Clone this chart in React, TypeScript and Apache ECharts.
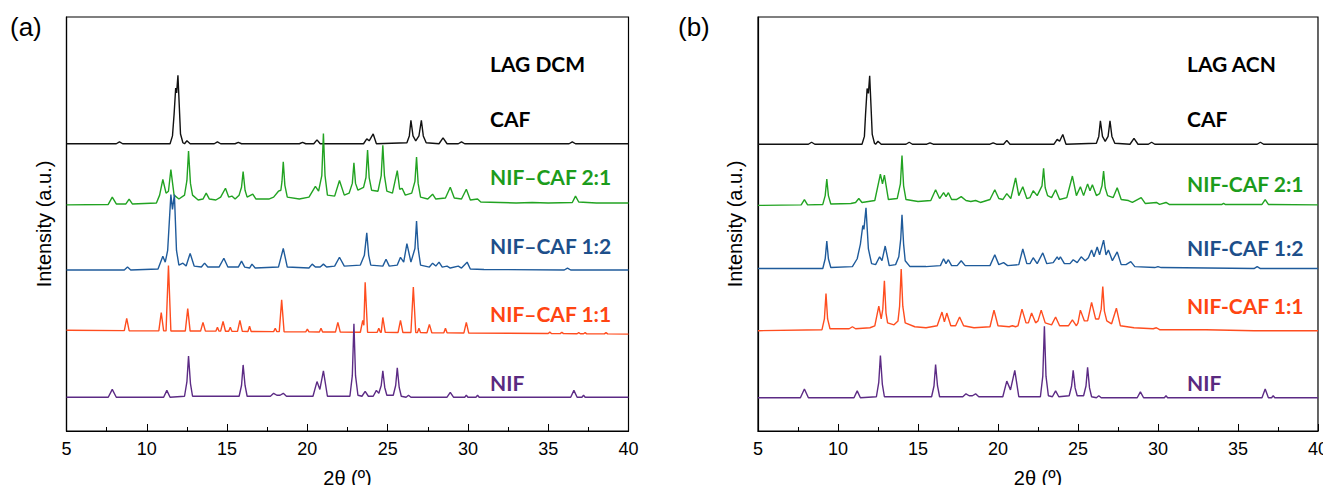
import React, { useEffect, useRef } from "react";
import * as echarts from "echarts";

// 2θ range and tick labels
const X_MIN = 5;
const X_MAX = 40;
const X_STEP = 5;

// Sample names (top to bottom) and their colours
const NAMES_A = ["CAF", "NIF–CAF 2:1", "NIF–CAF 1:2", "NIF–CAF 1:1", "NIF"];
const NAMES_B = ["CAF", "NIF-CAF 2:1", "NIF-CAF 1:2", "NIF-CAF 1:1", "NIF"];
const LINE_COLORS = ["#111111", "#22a322", "#1f5b9b", "#ff4d1f", "#5c2b85"];
const TEXT_COLORS = ["#000000", "#1c9c1c", "#1d4f8a", "#ff4512", "#5a2a80"];

// Vertical stacking offsets (a.u.)
const OFFSETS_A = [293.5, 231, 164.5, 103, 34.5];
const OFFSETS_B = [293, 230.5, 166, 102.5, 34];

// ---------- Panel (a) LAG DCM : [2θ, intensity above baseline] ----------
const CAF_A = [[5,0],[8.1,0],[8.3,2],[8.5,0],[11.45,0],[11.6,8],[11.7,30],[11.8,57],[11.86,52],[11.94,70],[12.02,40],[12.1,10],[12.25,1],[12.35,0],[12.5,3],[12.7,0],[14.2,0],[14.4,2],[14.6,0],[15.5,0],[15.7,1.5],[15.9,0],[19.5,0],[19.7,1.5],[19.9,0],[20.4,0],[20.6,4],[20.8,0],[23.5,0],[23.7,5],[23.85,3],[24.1,10],[24.3,0],[26.2,1],[26.35,8],[26.45,24],[26.58,8],[26.75,3],[26.95,8],[27.1,24],[27.22,8],[27.4,1],[28.2,0],[28.45,6],[28.7,0],[29.4,0],[29.6,2],[29.8,0],[36.3,0],[36.5,2],[36.7,0],[40,0]];
const NC21_A = [[5,0],[7.6,0.5],[7.85,8],[8.1,1],[8.7,1],[8.9,6],[9.1,1],[10.6,2],[10.8,10],[11.0,26],[11.2,12],[11.35,14],[11.5,36],[11.7,10],[12.0,6],[12.35,10],[12.5,25],[12.6,55],[12.72,22],[12.85,10],[13.2,5],[13.5,6],[13.7,12],[13.9,6],[14.3,5],[14.6,8],[14.9,17],[15.1,8],[15.3,9],[15.5,6],[15.75,10],[15.9,18],[16.0,34],[16.12,15],[16.25,8],[16.6,11],[16.8,6],[17.6,6],[17.9,8],[18.2,14],[18.35,15],[18.42,24],[18.5,44],[18.6,20],[18.75,8],[19.5,6],[20.1,8],[20.5,19],[20.7,14],[20.9,30],[21.0,73],[21.1,30],[21.25,10],[21.7,9],[22.0,25],[22.3,10],[22.6,12],[22.8,22],[22.9,43],[23.0,22],[23.15,15],[23.5,18],[23.65,28],[23.75,56],[23.85,28],[24.0,15],[24.4,14],[24.6,30],[24.7,61],[24.8,30],[24.95,14],[25.3,12],[25.6,35],[25.75,16],[25.9,17],[26.1,10],[26.5,12],[26.7,24],[26.8,49],[26.9,22],[27.05,8],[27.5,6],[27.8,11],[28.0,6],[28.6,7],[28.9,18],[29.15,7],[29.6,6],[29.9,16],[30.15,5],[30.6,6],[30.8,3],[32,2.5],[33,2],[34,2.5],[35,2],[36.5,2.5],[36.7,9],[36.9,3],[38,2],[40,2]];
const NC12_A = [[5,0],[8.6,0],[8.8,3],[9.0,0],[10.7,1],[11.0,14],[11.15,8],[11.3,20],[11.5,77],[11.6,62],[11.72,77],[11.85,20],[12.0,5],[12.25,7],[12.45,4],[12.7,17],[12.95,4],[13.4,3],[13.6,7],[13.8,3],[14.5,3],[14.8,12],[15.05,3],[15.7,3],[15.9,9],[16.1,3],[16.4,2],[16.55,6],[16.75,2],[18.2,3],[18.5,22],[18.75,3],[20.1,2],[20.3,6],[20.5,3],[20.8,3],[21.0,6],[21.2,3],[21.7,4],[22.0,13],[22.3,4],[23.3,5],[23.55,15],[23.7,38],[23.82,15],[23.95,5],[24.7,4],[24.9,11],[25.1,4],[25.6,5],[25.8,13],[26.0,8],[26.2,27],[26.45,8],[26.7,22],[26.8,50],[26.9,22],[27.05,5],[27.6,3],[27.8,7],[28.0,4],[28.2,8],[28.4,3],[28.7,4],[28.9,2],[29.4,4],[29.6,2],[29.95,8],[30.15,1],[31,0.5],[36,0],[36.2,2],[36.4,0],[40,0]];
const NC11_A = [[5,0],[8.6,-0.4],[8.75,12],[8.9,-0.5],[10.75,-0.7],[10.9,18],[11.05,-0.7],[11.2,-0.7],[11.35,66],[11.5,-0.8],[12.4,-0.8],[12.55,22],[12.7,-0.9],[13.35,-0.9],[13.5,8],[13.65,-1],[14.3,-1],[14.4,3],[14.5,-1],[14.6,-1],[14.75,9],[14.9,-1.1],[15.1,-1.1],[15.2,3],[15.3,-1.2],[15.65,-1.2],[15.8,10],[15.95,-1.2],[16.3,-1.3],[16.4,4],[16.5,-1.3],[17.9,-1.5],[18.0,2],[18.1,-1.5],[18.25,-1.5],[18.4,31],[18.55,-1.6],[19.9,-1.7],[20.0,1],[20.1,-1.7],[20.75,-1.8],[20.85,2],[20.95,-1.8],[21.75,-1.9],[21.9,8],[22.05,-1.9],[23.3,-2.1],[23.45,10],[23.52,5],[23.6,49],[23.75,-2.1],[24.35,-2.2],[24.45,2],[24.55,-2.2],[24.6,-2.2],[24.7,13],[24.85,-2.2],[25.65,-2.3],[25.8,10],[25.95,-2.4],[26.45,-2.4],[26.6,44],[26.75,-2.4],[26.85,-2.5],[26.95,2],[27.05,-2.5],[27.45,-2.6],[27.6,6],[27.75,-2.6],[28.5,-2.7],[28.6,2],[28.7,-2.7],[29.75,-2.8],[29.9,8],[30.05,-2.9],[35,-3.4],[35.1,-2],[35.2,-3.4],[35.75,-3.5],[35.85,-2],[35.95,-3.5],[36.8,-3.6],[36.9,-2.5],[37.0,-3.6],[37.2,-3.6],[37.3,-2.5],[37.4,-3.7],[38.5,-3.8],[38.6,-2.5],[38.7,-3.8],[40,-4]];
const NIF_A = [[5,0],[7.6,0],[7.85,8],[8.1,0],[11.05,0],[11.25,7],[11.45,0],[12.35,1],[12.5,16],[12.6,42],[12.72,14],[12.85,1],[15.75,1],[15.9,12],[16.0,33],[16.12,12],[16.25,1],[17.7,1],[17.9,4],[18.1,2],[18.3,2],[18.5,4],[18.7,1],[20.35,1],[20.6,16],[20.78,8],[21.0,27],[21.25,1],[22.65,1],[22.8,22],[22.9,75],[23.0,22],[23.15,2],[23.4,1],[23.6,6],[23.8,1],[24.1,1],[24.3,7],[24.45,4],[24.6,12],[24.7,27],[24.82,10],[24.95,2],[25.35,2],[25.5,12],[25.6,30],[25.72,10],[25.85,1],[26.15,0],[26.3,2],[26.45,0],[28.7,0],[28.9,5],[29.1,0],[29.8,0],[29.9,2],[30.0,0],[30.5,0],[30.6,2],[30.7,0],[36.4,0],[36.6,7],[36.8,0],[37.1,0],[37.2,2],[37.3,0],[40,0]];

// ---------- Panel (b) LAG ACN ----------
const CAF_B = [[5,0],[8.15,0],[8.35,2],[8.55,0],[11.5,0],[11.65,8],[11.72,30],[11.82,57],[11.9,52],[11.98,70],[12.06,40],[12.14,10],[12.28,1],[12.35,0],[12.5,3],[12.7,0],[14.25,0],[14.45,2],[14.65,0],[15.55,0],[15.75,1.5],[15.95,0],[19.5,0],[19.7,1.5],[19.9,0],[20.35,0],[20.55,4],[20.75,0],[23.5,0],[23.7,5],[23.85,3],[24.05,10],[24.25,0],[26.15,1],[26.3,8],[26.4,24],[26.53,8],[26.7,3],[26.88,8],[27.0,24],[27.12,8],[27.3,1],[28.25,0],[28.5,6],[28.75,0],[29.4,0],[29.6,2],[29.8,0],[36.2,0],[36.4,2],[36.6,0],[40,0]];
const NC21_B = [[5,0],[7.7,0.5],[7.9,6],[8.1,0.5],[9.05,1],[9.2,10],[9.3,27],[9.4,10],[9.55,1.5],[10.8,2],[11.1,3],[11.3,7],[11.5,3],[12.3,5],[12.65,32],[12.78,22],[12.9,31],[13.15,6],[13.7,7],[13.9,22],[14.0,51],[14.1,20],[14.25,6],[15.0,4],[15.8,5],[16.1,16],[16.35,7],[16.6,13],[16.75,9],[16.9,13],[17.1,6],[17.4,6],[17.7,9],[18.0,5],[18.3,4],[18.6,5],[18.9,3],[19.5,6],[19.8,16],[20.05,7],[20.3,6],[20.55,12],[20.8,7],[21.1,28],[21.3,10],[21.55,19],[21.8,7],[22.0,8],[22.2,15],[22.45,10],[22.75,20],[22.85,38],[22.95,18],[23.1,10],[23.35,8],[23.6,16],[23.85,6],[24.3,8],[24.65,30],[24.9,10],[25.15,19],[25.35,10],[25.6,22],[25.75,15],[25.9,21],[26.15,10],[26.35,12],[26.5,20],[26.6,35],[26.7,18],[26.85,10],[27.2,8],[27.45,18],[27.7,6],[28.15,5],[28.4,3],[28.95,8],[29.2,2],[29.9,3],[30.1,1],[30.5,3],[30.7,1],[34.0,1],[34.1,2],[34.2,1],[36.5,1],[36.7,6],[36.9,1],[40,0.5]];
const NC12_B = [[5,0],[9.05,0],[9.2,10],[9.3,28],[9.4,10],[9.55,1],[10.9,2],[11.2,10],[11.4,25],[11.55,44],[11.62,40],[11.75,62],[11.9,20],[12.1,5],[12.35,4],[12.6,12],[12.75,8],[12.95,23],[13.2,3],[13.6,4],[13.8,12],[13.92,30],[14.0,55],[14.1,25],[14.2,8],[14.5,2],[15.5,2],[16.4,3],[16.6,10],[16.75,5],[16.9,9],[17.1,3],[17.45,3],[17.7,8],[17.95,3],[19.5,3],[19.8,14],[20.05,4],[20.35,6],[20.6,3],[21.3,4],[21.55,20],[21.8,5],[22.0,5],[22.2,11],[22.45,5],[22.8,16],[23.05,5],[23.45,6],[23.7,12],[23.8,9],[23.9,12],[24.15,5],[24.5,5],[24.7,9],[24.95,6],[25.2,12],[25.45,8],[25.65,11],[25.85,19],[26.0,12],[26.2,22],[26.35,14],[26.6,29],[26.75,14],[26.9,19],[27.15,8],[27.45,17],[27.7,4],[28.0,4],[28.3,7],[28.55,2],[29.8,1],[30.0,2],[30.2,1],[36.0,0],[36.2,2],[36.4,0],[40,0]];
const NC11_B = [[5,0],[9.0,1],[9.15,12],[9.25,38],[9.35,12],[9.5,2],[10.7,2],[10.9,4],[11.1,2],[12.0,3],[12.3,5],[12.55,25],[12.7,12],[12.8,22],[12.9,51],[13.0,18],[13.1,8],[13.5,6],[13.75,10],[13.85,25],[13.95,63],[14.05,25],[14.2,8],[14.8,4],[15.5,3],[16.2,5],[16.5,19],[16.65,9],[16.8,18],[17.05,5],[17.35,5],[17.6,14],[17.85,5],[18.5,3],[19.5,4],[19.75,21],[20.0,5],[20.7,4],[20.9,5],[21.1,4],[21.25,5],[21.5,22],[21.75,8],[21.9,8],[22.1,18],[22.35,8],[22.5,10],[22.7,21],[22.95,8],[23.35,6],[23.6,14],[23.85,5],[24.4,5],[24.65,11],[24.9,5],[25.0,8],[25.15,21],[25.4,10],[25.6,10],[25.85,29],[26.1,12],[26.3,12],[26.45,22],[26.55,45],[26.65,20],[26.8,10],[27.1,7],[27.4,23],[27.65,5],[28.5,3],[29.7,2],[29.9,3],[30.1,1],[33,1],[36,0],[40,0]];
const NIF_B = [[5,0],[7.65,0],[7.9,9],[8.15,0],[11.0,0],[11.2,7],[11.4,0],[12.4,1],[12.55,16],[12.65,43],[12.77,14],[12.9,1],[15.85,1],[16.0,12],[16.1,34],[16.22,12],[16.35,1],[17.8,1],[18.0,4],[18.2,2],[18.4,2],[18.6,4],[18.8,1],[20.3,1],[20.55,17],[20.78,8],[21.05,28],[21.3,1],[22.65,1],[22.8,22],[22.9,73],[23.0,22],[23.15,2],[23.4,1],[23.6,7],[23.8,1],[24.45,2],[24.6,12],[24.7,28],[24.82,10],[24.95,2],[25.35,2],[25.5,12],[25.6,31],[25.72,10],[25.85,1],[26.15,0],[26.3,2],[26.45,0],[28.7,0],[28.9,6],[29.1,0],[30.4,0],[30.5,2],[30.6,0],[36.5,0],[36.7,9],[36.9,0],[37.1,0],[37.2,2],[37.3,0],[40,0]];

const PATTERNS_A = [CAF_A, NC21_A, NC12_A, NC11_A, NIF_A];
const PATTERNS_B = [CAF_B, NC21_B, NC12_B, NC11_B, NIF_B];

const Y_MAX = 423;

export default function App() {
  const ref = useRef<HTMLDivElement>(null);

  useEffect(() => {
    if (!ref.current) return;
    const chart = echarts.init(ref.current, null, { renderer: "svg" });

    const axisFont = "'Liberation Sans', Arial, sans-serif";
    const labelFont = "Lato, 'Open Sans', sans-serif";

    const makeX = (gridIndex: number) => ({
      type: "value",
      gridIndex,
      min: X_MIN,
      max: X_MAX,
      interval: X_STEP,
      name: "2θ (º)",
      nameLocation: "middle",
      nameGap: 37,
      nameTextStyle: { fontSize: 20, color: "#000", fontFamily: axisFont },
      axisLine: { show: true, lineStyle: { color: "#000", width: 1.2 } },
      axisTick: { show: true, inside: true, length: 7, lineStyle: { color: "#000", width: 1 } },
      minorTick: { show: true, splitNumber: 2, length: 4, lineStyle: { color: "#000", width: 1 } },
      axisLabel: { fontSize: 18, color: "#000", margin: 9, fontFamily: axisFont },
      splitLine: { show: false },
    });
    const makeY = (gridIndex: number) => ({
      type: "value",
      gridIndex,
      min: 0,
      max: Y_MAX,
      name: "Intensity (a.u.)",
      nameLocation: "middle",
      nameGap: 13,
      nameTextStyle: { fontSize: 20, color: "#000", fontFamily: axisFont },
      axisLine: { show: true, lineStyle: { color: "#000", width: 1.2 } },
      axisTick: { show: false },
      axisLabel: { show: false },
      splitLine: { show: false },
    });

    const series: any[] = [];
    PATTERNS_A.forEach((pts, i) => {
      series.push({
        type: "line",
        name: NAMES_A[i],
        xAxisIndex: 0,
        yAxisIndex: 0,
        showSymbol: false,
        symbol: "none",
        lineStyle: { color: LINE_COLORS[i], width: 1.4 },
        data: pts.map(([x, y]) => [x, y + OFFSETS_A[i]]),
      });
    });
    PATTERNS_B.forEach((pts, i) => {
      series.push({
        type: "line",
        name: NAMES_B[i],
        xAxisIndex: 1,
        yAxisIndex: 1,
        showSymbol: false,
        symbol: "none",
        lineStyle: { color: LINE_COLORS[i], width: 1.4 },
        data: pts.map(([x, y]) => [x, y + OFFSETS_B[i]]),
      });
    });

    const labelYA = [118, 176, 245, 313, 382];
    const labelYB = [118, 183, 247, 305, 382];
    const textStyle = (t: string, color: string) => ({
      text: t,
      fill: color,
      font: `bold 21px ${labelFont}`,
      textVerticalAlign: "middle",
      textAlign: "left",
    });
    const graphics: any[] = [
      { type: "text", left: 10, top: 14, style: { text: "(a)", fill: "#000", font: `26px ${axisFont}` } },
      { type: "text", left: 678, top: 14, style: { text: "(b)", fill: "#000", font: `26px ${axisFont}` } },
      { type: "text", x: 490, y: 63, style: textStyle("LAG DCM", "#000") },
      { type: "text", x: 1187, y: 63, style: textStyle("LAG ACN", "#000") },
    ];
    NAMES_A.forEach((n, i) => graphics.push({ type: "text", x: 490, y: labelYA[i], style: textStyle(n, TEXT_COLORS[i]) }));
    NAMES_B.forEach((n, i) => graphics.push({ type: "text", x: 1187, y: labelYB[i], style: textStyle(n, TEXT_COLORS[i]) }));

    chart.setOption({
      animation: false,
      backgroundColor: "#fff",
      grid: [
        { left: 66.5, top: 17, width: 562, height: 423, show: true, borderColor: "#000", borderWidth: 1.2, backgroundColor: "transparent" },
        { left: 758, top: 17, width: 562.5, height: 423, show: true, borderColor: "#000", borderWidth: 1.2, backgroundColor: "transparent" },
      ],
      xAxis: [makeX(0), makeX(1)],
      yAxis: [makeY(0), makeY(1)],
      series,
      graphic: graphics,
    });

    return () => chart.dispose();
  }, []);

  return <div ref={ref} style={{ width: 1331, height: 493, margin: -8 }} />;
}
